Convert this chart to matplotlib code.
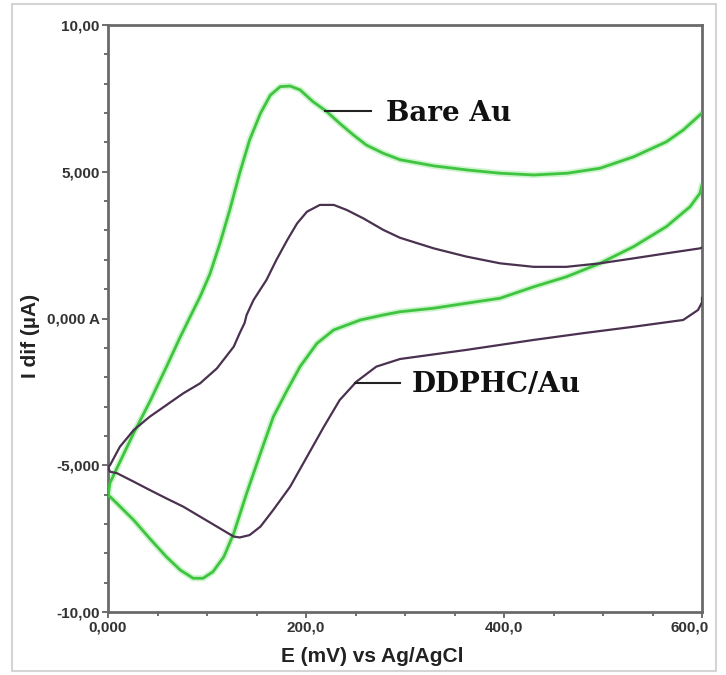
import matplotlib
matplotlib.use("Agg")
import matplotlib.pyplot as plt
from matplotlib.patches import Rectangle
from matplotlib.transforms import ScaledTranslation

# ---- data (E in mV, current in µA) ----
bare_fwd_E = [0, 2, 9, 26, 42, 59, 72, 83, 93, 103, 113, 123, 133, 143, 154, 164, 174, 184, 194, 207, 221, 234,
              248, 261, 278, 295, 329, 363, 396, 430, 464, 497, 531, 564, 581, 600]
bare_fwd_I = [-6.05, -5.6, -5.1, -3.9, -2.85, -1.65, -0.7, 0.06, 0.74, 1.52, 2.55, 3.70, 4.95, 6.08, 6.99, 7.61,
              7.90, 7.92, 7.79, 7.39, 7.05, 6.65, 6.25, 5.91, 5.63, 5.41, 5.20, 5.06, 4.95, 4.89, 4.95, 5.12,
              5.51, 6.02, 6.42, 7.0]
bare_rev_E = [600, 598, 588, 564, 531, 497, 463, 430, 396, 362, 329, 295, 278, 255, 228, 211, 194, 181, 167, 154,
              140, 127, 117, 106, 96, 86, 73, 59, 42, 26, 9, 2, 0]
bare_rev_I = [4.55, 4.27, 3.81, 3.13, 2.45, 1.88, 1.42, 1.08, 0.69, 0.52, 0.35, 0.23, 0.12, -0.05, -0.39, -0.85,
              -1.64, -2.44, -3.35, -4.59, -5.96, -7.32, -8.12, -8.63, -8.85, -8.85, -8.57, -8.12, -7.49, -6.87,
              -6.30, -6.07, -6.05]

ddphc_fwd_E = [0, 2, 12, 26, 42, 59, 76, 93, 110, 127, 133, 138, 140, 147, 160, 170, 181, 191, 201, 214, 228,
               241, 258, 278, 295, 329, 362, 396, 430, 463, 497, 531, 564, 598, 600]
ddphc_fwd_I = [-5.06, -5.0, -4.37, -3.80, -3.35, -2.95, -2.55, -2.21, -1.70, -0.96, -0.50, -0.15, 0.12, 0.63,
               1.31, 1.99, 2.67, 3.24, 3.64, 3.87, 3.87, 3.70, 3.41, 3.02, 2.75, 2.39, 2.11, 1.88, 1.76, 1.76,
               1.88, 2.05, 2.22, 2.39, 2.42]
ddphc_rev_E = [600, 600, 596, 581, 531, 480, 430, 362, 295, 271, 251, 234, 218, 201, 184, 167, 154, 143, 133,
               127, 110, 93, 76, 59, 42, 26, 9, 2, 0]
ddphc_rev_I = [0.7, 0.55, 0.29, -0.05, -0.28, -0.50, -0.73, -1.07, -1.38, -1.64, -2.15, -2.78, -3.69, -4.71,
               -5.73, -6.52, -7.09, -7.38, -7.46, -7.43, -7.09, -6.75, -6.41, -6.13, -5.84, -5.56, -5.27, -5.22,
               -5.06]

yticks = [-10, -5, 0, 5, 10]
ytick_labels = ['-10,00', '-5,000', '0,000 A', '5,000', '10,00']
xticks = [0, 200, 400, 600]
xtick_labels = ['0,000', '200,0', '400,0', '600,0']

green = '#3fc43f'
green_glow = '#cdf4cd'
purple = '#4b3150'

fig = plt.figure(figsize=(7.26, 6.75), dpi=100)
plt.rcParams['font.family'] = ['Liberation Sans', 'DejaVu Sans']

# outer light frame
fig.patches.append(Rectangle((12/726, 4/675), (716-12)/726, (671-4)/675, transform=fig.transFigure,
                             fill=False, edgecolor='#d4d4d4', linewidth=1.5))

ax = fig.add_axes([108/726, 63/675, 594/726, 587/675])

for E, I in [(bare_fwd_E, bare_fwd_I), (bare_rev_E, bare_rev_I)]:
    ax.plot(E, I, color=green_glow, lw=4.5, solid_capstyle='round', solid_joinstyle='round', zorder=2)
    ax.plot(E, I, color=green, lw=2.0, solid_joinstyle='round', zorder=3)
for E, I in [(ddphc_fwd_E, ddphc_fwd_I), (ddphc_rev_E, ddphc_rev_I)]:
    ax.plot(E, I, color=purple, lw=1.6, solid_joinstyle='round', zorder=4)

ax.set_xlim(0, 600)
ax.set_ylim(-10, 10)
ax.set_xticks(xticks)
ax.set_xticklabels(xtick_labels, fontsize=11, fontweight='bold', color='#333333')
ax.set_yticks(yticks)
ax.set_yticklabels(ytick_labels, fontsize=11, fontweight='bold', color='#333333')
ax.set_xticks(range(0, 601, 50), minor=True)
ax.set_yticks(range(-10, 11, 1), minor=True)
ax.tick_params(which='both', direction='out', color='#555555', width=1.2)
ax.tick_params(which='major', length=4, pad=2)
ax.tick_params(which='minor', length=3)

last = ax.get_xticklabels()[-1]
last.set_transform(last.get_transform() + ScaledTranslation(-12/100, 0, fig.dpi_scale_trans))

for s in ax.spines.values():
    s.set_color('#6a6a6a')
    s.set_linewidth(2)

ax.set_xlabel('E (mV) vs Ag/AgCl', fontsize=15, fontweight='bold', color='#222222')
ax.xaxis.set_label_coords(0.445, -0.060)
ax.set_ylabel('I dif (µA)', fontsize=15, fontweight='bold', color='#222222')
ax.yaxis.set_label_coords(-0.114, 0.47)

# annotations
ax.plot([219, 266], [7.07, 7.07], color='#222222', lw=1.5, zorder=5)
ax.text(281, 7.0, 'Bare Au', fontsize=20, fontweight='bold', family='DejaVu Serif',
        va='center', ha='left', color='#111111')
ax.plot([249, 295], [-2.2, -2.2], color='#222222', lw=1.5, zorder=5)
ax.text(307, -2.25, 'DDPHC/Au', fontsize=20, fontweight='bold', family='DejaVu Serif',
        va='center', ha='left', color='#111111')

fig.savefig('out.png', dpi=100)
